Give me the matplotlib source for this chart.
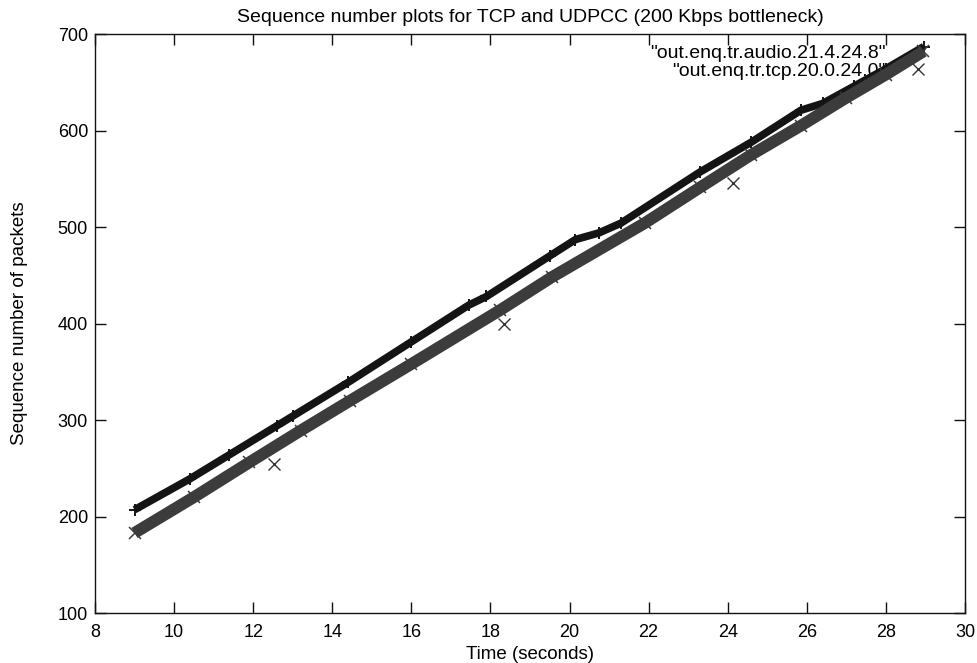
import matplotlib
matplotlib.use("Agg")
import matplotlib.pyplot as plt
from matplotlib.lines import Line2D

# Audio (UDPCC) flow: time (s) vs. sequence number
audio_t = [9.0, 10.4, 11.4, 12.6, 13.0, 14.4, 16.0, 17.45, 17.9, 19.5,
           20.15, 20.75, 21.3, 23.3, 24.6, 25.85, 26.4, 27.2, 28.0, 28.96]
audio_seq = [207, 239, 264, 294, 304, 339, 381, 419, 428, 470,
             487, 494, 504, 557, 588, 621, 628, 646, 664, 687]

# TCP flow: main band
tcp_t = [9.0, 10.5, 11.9, 13.2, 14.45, 16.0, 18.25, 19.55, 21.9, 23.3,
         24.6, 25.85, 27.0, 28.0, 28.95]
tcp_seq = [183, 220, 256, 289, 320, 358, 414, 448, 504, 541,
           575, 605, 634, 658, 682]

# TCP isolated (retransmitted) packets
tcp_out_t = [12.53, 18.35, 24.13]
tcp_out_seq = [254, 400, 546]

labels = ['"out.enq.tr.audio.21.4.24.8"', '"out.enq.tr.tcp.20.0.24.0"']
x_ticks = [8, 10, 12, 14, 16, 18, 20, 22, 24, 26, 28, 30]
y_ticks = [100, 200, 300, 400, 500, 600, 700]

plt.rcParams['font.family'] = ['Liberation Sans', 'DejaVu Sans']

fig = plt.figure(figsize=(9.77, 6.63), dpi=100)
ax = fig.add_axes([0.0972, 0.0754, 0.8905, 0.8733])

ax.plot(audio_t, audio_seq, color='#141414', lw=5.5, marker='+', ms=8, mew=1.4,
        solid_capstyle='butt', zorder=3)
ax.plot(tcp_t, tcp_seq, color='#3c3c3c', lw=8.5, marker='x', ms=8, mew=1.1,
        solid_capstyle='butt', zorder=3)
ax.plot(tcp_out_t, tcp_out_seq, ls='none', marker='x', ms=8, mew=1.0,
        color='#333333', zorder=3)

handles = [Line2D([], [], ls='none', marker='+', ms=9, mew=1.2, color='#222222'),
           Line2D([], [], ls='none', marker='x', ms=8, mew=1.0, color='#333333')]
leg = ax.legend(handles, labels, loc='upper right', frameon=False,
                markerfirst=False, fontsize=14, handlelength=1.5,
                handletextpad=0.9, labelspacing=0.0,
                borderaxespad=0.3, bbox_to_anchor=(0.978, 1.005))
leg.set_zorder(1)

ax.set_xlim(8, 30)
ax.set_ylim(100, 700)
ax.set_xticks(x_ticks)
ax.set_yticks(y_ticks)
ax.tick_params(direction='in', length=8, width=1, top=True, right=True,
               labelsize=13, color='#111111')
ax.tick_params(axis='x', pad=8)
ax.tick_params(axis='y', pad=5)
for s in ax.spines.values():
    s.set_linewidth(1.0)
    s.set_color('#111111')

ax.set_title('Sequence number plots for TCP and UDPCC (200 Kbps bottleneck)',
             fontsize=14, pad=9)
ax.set_xlabel('Time (seconds)', fontsize=13.5)
ax.set_ylabel('Sequence number of packets', fontsize=13.5)
ax.xaxis.set_label_coords(0.5, -0.057)
ax.yaxis.set_label_coords(-0.077, 0.5)

fig.savefig('out.png', dpi=100)
